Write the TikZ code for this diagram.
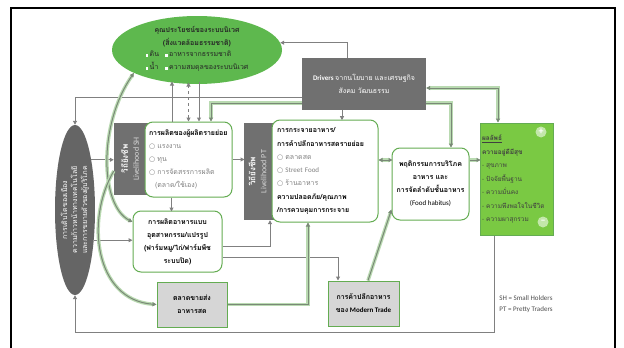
\documentclass[tikz,border=0pt]{standalone}
\usepackage{fontspec}
\setmainfont{Carlito}
\newfontfamily\thaifont[Script=Thai]{Loma}
\newfontfamily\symfont{DejaVu Sans}
\usetikzlibrary{shapes.geometric,arrows.meta}
\definecolor{ecogreen}{RGB}{94,184,78}
\definecolor{outgreen}{RGB}{122,201,67}
\definecolor{boxgreen}{RGB}{100,172,82}
\definecolor{darkbox}{RGB}{112,112,112}
\definecolor{linegray}{RGB}{128,128,128}
\definecolor{lightbox}{RGB}{214,214,214}
\newcommand{\tht}[1]{{\thaifont #1}}
\newcommand{\ring}{{\symfont\color{linegray}○}}
\newcommand{\wsq}{\textcolor{white}{\rule{2.5pt}{2.5pt}}}
\begin{document}
\begin{tikzpicture}[x=1pt,y=-1pt,>={Triangle[length=4pt,width=4pt]},
  font=\fontsize{7}{13}\selectfont,
  arr/.style={draw=linegray,line width=1pt},
  glow/.style={draw=linegray!80!boxgreen,line width=1pt,preaction={draw=boxgreen!45,line width=3.5pt}},
  wbox/.style={draw=boxgreen,line width=1pt,fill=white,rounded corners=8pt,align=left,inner sep=4pt},
  gbox/.style={fill=darkbox,text=white,inner sep=0pt},
  sidetxt/.style={rotate=90,text=white,align=center,font=\fontsize{8}{11}\selectfont}]
\useasboundingbox (0,0) rectangle (624,348);
\draw[line width=1.5pt] (11,348) -- (11,8) -- (615,8) -- (615,348);

% top
\node[ellipse,fill=ecogreen,minimum width=170pt,minimum height=68pt,inner sep=0pt] (eco) at (197,50) {};
\node[align=center,text=black!85] (ecotxt) at (eco) {\textbf{\tht{คุณประโยชน์ของระบบนิเวศ}}\\\textbf{\tht{(สิ่งแวดล้อมธรรมชาติ)}}\\
  \begin{tabular}{@{}l@{\hspace{6pt}}l@{}}\wsq\ \tht{ดิน} & \wsq\ \tht{อาหารจากธรรมชาติ}\\ \wsq\ \tht{น้ำ} & \wsq\ \tht{ความสมดุลของระบบนิเวศ}\end{tabular}};
\node[gbox,minimum width=124pt,minimum height=52pt,align=center] (drv) at (364,84) {\textbf{Drivers} \tht{จากนโยบาย และเศรษฐกิจ}\\\tht{สังคม วัฒนธรรม}};

% left
\node[ellipse,fill=darkbox!90!black,minimum width=40pt,minimum height=170pt,inner sep=0pt] (urban) at (75,210) {};
\node[rotate=90,text=white,align=center,font=\fontsize{7}{10}\selectfont] (urbantxt) at (urban) {\tht{การเติบโตของเมือง}\\\tht{ความก้าวหน้าทางเทคโนโลยี}\\\tht{และการขยายตัวของผู้บริโภค}};

% livelihood SH
\node[gbox,minimum width=36pt,minimum height=72pt] (shg) at (132,159) {};
\node[sidetxt] (shgtxt) at ([xshift=-2pt]shg) {\textbf{\tht{วิถียังชีพ}}\\{\color{white!85!black}Livelihood SH}};
\node[wbox,minimum width=87pt,minimum height=75pt,text width=79pt] (shw) at (188.5,159.5) {\textbf{\tht{การผลิตของผู้ผลิตรายย่อย}}\\
  {\color{linegray}\ring\ \tht{แรงงาน}}\\{\color{linegray}\ring\ \tht{ทุน}}\\{\color{linegray}\ring\ \tht{การจัดสรรการผลิต}}\\{\color{linegray}\hspace{6pt}\tht{(ตลาด/ใช้เอง)}}};
\node[wbox,align=center,minimum width=89pt,minimum height=61pt] (ind) at (177.5,241.5) {\textbf{\tht{การผลิตอาหารแบบ}}\\\textbf{\tht{อุตสาหกรรม/แปรรูป}}\\\textbf{\tht{(ฟาร์มหมู/ไก่/ฟาร์มพืช}}\\\textbf{\tht{ระบบปิด)}}};

% livelihood PT
\node[gbox,minimum width=31pt,minimum height=97pt] (ptg) at (259.5,171.5) {};
\node[sidetxt] (ptgtxt) at ([xshift=-2pt]ptg) {\textbf{\tht{วิถียังชีพ}}\\{\color{white!85!black}Livelihood PT}};
\node[wbox,minimum width=106pt,minimum height=102pt,text width=96pt,font=\fontsize{7}{13.3}\selectfont] (ptw) at (325,171) {\textbf{\tht{การกระจายอาหาร/}}\\\textbf{\tht{การค้าปลีกอาหารสดรายย่อย}}\\
  {\color{linegray}\ring\ \tht{ตลาดสด}}\\{\color{linegray}\ring\ Street Food}\\{\color{linegray}\ring\ \tht{ร้านอาหาร}}\\\textbf{\tht{ความปลอดภัย/คุณภาพ}}\\\textbf{\tht{/การควบคุมการกระจาย}}};

% right
\node[wbox,align=center,minimum width=77pt,minimum height=72pt] (hab) at (430.5,184) {\textbf{\tht{พฤติกรรมการบริโภค}}\\\textbf{\tht{อาหาร และ}}\\\textbf{\tht{การจัดลำดับชั้นอาหาร}}\\(Food habitus)};
\node[fill=outgreen,draw=boxgreen,line width=1pt,minimum width=73pt,minimum height=112pt,inner sep=2pt,text width=69pt,align=left,font=\fontsize{6.5}{13.5}\selectfont,text=black!75] (out) at (516.5,179) {\textbf{\underline{\tht{ผลลัพธ์}}}\\\textbf{\tht{ความอยู่ดีมีสุข}}\\
  - \tht{สุขภาพ}\\- \tht{ปัจจัยพื้นฐาน}\\- \tht{ความมั่นคง}\\- \tht{ความพึงพอใจในชีวิต}\\- \tht{ความผาสุกรวม}};
\node[circle,fill=white!55!outgreen,text=white,inner sep=0pt,minimum size=11pt,font=\bfseries] (plus) at (541,132) {+};
\node[circle,fill=white!55!outgreen,text=white,inner sep=0pt,minimum size=11pt,font=\bfseries] (minus) at (543,222) {--};

% bottom
\node[fill=lightbox,draw=boxgreen,line width=1pt,minimum width=70pt,minimum height=45pt,align=center] (whs) at (192,304.5) {\textbf{\tht{ตลาดขายส่ง}}\\\textbf{\tht{อาหารสด}}};
\node[fill=lightbox,draw=boxgreen,line width=1pt,minimum width=71pt,minimum height=45pt,align=center] (mt) at (363.5,303.5) {\textbf{\tht{การค้าปลีกอาหาร}}\\\textbf{\tht{ของ} Modern Trade}};
\node[align=left,text=black!70,font=\fontsize{7}{11}\selectfont] (legend) at (526,304) {SH = Small Holders\\PT = Pretty Traders};

% gray connectors
\draw[arr,->] ([xshift=-17pt]drv.north) |- (eco.5);
\draw[arr,->] ([yshift=-13pt]drv.west) -| (urban.north);
\draw[arr,->] ([xshift=-16.5pt]shw.north) -- +(0,-40);
\draw[arr,<->,dashed] (shw.north) -- +(0,-39);
\draw[arr,->] ([xshift=10.5pt,yshift=40pt]shw.north) -- ([xshift=10.5pt]shw.north);
\draw[arr,->] (urban.72) -- (urban.72 -| shg.west);
\draw[arr,->] (urban.-58) -- (urban.-58 -| ind.west);
\draw[arr,->] ([xshift=-22.5pt]out.south) -- +(0,97) -| (urban.south);
\draw[arr,->] (shw.east) -- +(12,0);
\draw[arr,->] ([xshift=-17pt]shw.south) -- +(0,14);
\draw[arr,->] ([yshift=-4.5pt]ind.east) -| ([xshift=10.5pt]ptg.south);
\draw[arr,->] ([yshift=-15.5pt]ind.east) -| ([xshift=-25.5pt]mt.north);
\draw[arr,->] ([xshift=-22pt]drv.south) -- +(0,10);

% green connectors
\draw[glow,->] ([yshift=-19pt]drv.west) -| ([xshift=22.5pt]shw.north);
\draw[glow,->] ([yshift=-19pt]drv.east) -| ([xshift=20.5pt]hab.north);
\draw[glow,<->] ([yshift=-4pt]drv.east) -| ([xshift=-18.5pt]out.north);
\draw[glow,<->] ([yshift=11pt]ptw.east) -- +(14,0);
\draw[glow,->] ([yshift=24pt]hab.east) -- +(11,0);
\draw[glow,->] (whs.east) -| ([xshift=-17pt]ptw.south);
\draw[glow,->] ([xshift=4.5pt]mt.north) -- ([yshift=11pt]hab.south west);
\draw[glow,<->] (eco.200) .. controls (98,125) and (100,205) .. ([yshift=19.5pt]ind.west);
\draw[glow,->] ([yshift=-12pt]shg.west) .. controls (85,220) and (95,300) .. (whs.west);
\end{tikzpicture}
\end{document}
